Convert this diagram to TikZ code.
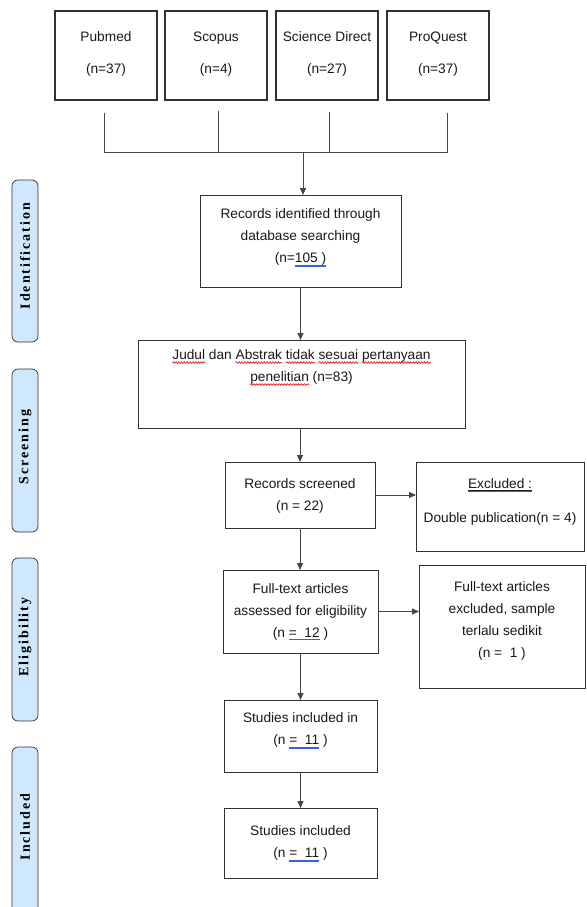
\documentclass[tikz,border=0pt]{standalone}
\usepackage{fontspec}
\setmainfont{Liberation Sans}
\newfontfamily\sidefont[LetterSpace=14]{Liberation Serif}
\usetikzlibrary{arrows.meta,decorations.pathmorphing,calc}
\definecolor{ublue}{RGB}{50,100,215}
\definecolor{sqred}{RGB}{225,30,30}
\definecolor{barfill}{RGB}{207,232,253}
\definecolor{edgec}{RGB}{50,50,50}
\definecolor{linec}{RGB}{70,70,70}
\newlength\mywd
\newcommand\sqw[1]{\settowidth\mywd{#1}\rlap{\tikz[overlay,baseline=0pt]\draw[sqred,line width=0.7pt,decorate,decoration={snake,amplitude=0.8pt,segment length=2.8pt}] (0pt,-3pt) -- (\mywd,-3pt);}#1}
\newcommand\dul[1]{\settowidth\mywd{#1}\rlap{\color{ublue}\rule[-2.3pt]{\mywd}{0.7pt}}\rlap{\color{ublue}\rule[-4pt]{\mywd}{0.7pt}}#1}
\newcommand\sul[1]{\settowidth\mywd{#1}\rlap{\color{ublue}\rule[-2.7pt]{\mywd}{0.8pt}}#1}
\newcommand\exul[1]{\settowidth\mywd{#1}\rlap{\rule[-1.6pt]{\mywd}{0.5pt}}\rlap{\color{ublue}\rule[-3.5pt]{\mywd}{0.9pt}}#1}
\begin{document}
\begin{tikzpicture}[x=1pt,y=-1pt,
  box/.style={draw=edgec,line width=0.9pt,inner sep=0pt,outer sep=0pt},
  topbox/.style={box,line width=1.2pt,minimum width=102pt,minimum height=89pt},
  txt/.style={align=center,inner sep=0pt,font=\fontsize{13.7}{22}\selectfont,text=black!90},
  toptxt/.style={txt,font=\fontsize{13.7}{32}\selectfont},
  bar/.style={draw=edgec,line width=0.7pt,fill=barfill,rounded corners=6pt,minimum width=26pt,inner sep=0pt,outer sep=0pt},
  barlbl/.style={rotate=90,inner sep=0pt,font=\sidefont\bfseries\fontsize{14}{16}\selectfont},
  conn/.style={draw=linec,line width=0.8pt},
  arr/.style={conn,-{Triangle[length=7pt,width=6pt]}}
]
\useasboundingbox (0,0) rectangle (586,907);
\fill[white] (0,0) rectangle (586,907);

% side bars
\node[bar,minimum height=162pt] (idb) at (25,261) {};
\node[bar,minimum height=163pt] (scb) at (25,450.5) {};
\node[bar,minimum height=163pt] (elb) at (25,639.5) {};
\node[bar,minimum height=180pt] (inb) at (25,837) {};
\node[barlbl] (idl) at (25,256) {Identification};
\node[barlbl] (scl) at (25,447) {Screening};
\node[barlbl] (ell) at (25,637) {Eligibility};
\node[barlbl] (inl) at (25,827) {Included};

% database boxes
\node[topbox] (pubmed) at (106,55.5) {};
\node[topbox] (scopus) at (216,55.5) {};
\node[topbox] (scidir) at (327,55.5) {};
\node[topbox] (proq) at (438,55.5) {};
\node[toptxt] (pubmedt) at (106,54) {Pubmed\\(n=37)};
\node[toptxt] (scopust) at (216,54) {Scopus\\(n=4)};
\node[toptxt] (scidirt) at (327,54) {Science Direct\\(n=27)};
\node[toptxt] (proqt) at (438,54) {ProQuest\\(n=37)};

% bracket
\coordinate (c1) at (104,113);
\coordinate (c2) at (218,111);
\coordinate (c3) at (329,112);
\coordinate (c4) at (447,113);
\coordinate (h1) at (104,152);
\coordinate (h4) at (447,152);
\coordinate (hub) at (303,152);
\draw[conn] (c1) -- (h1) -- (h4) -- (c4);
\draw[conn] (c2) -- (c2 |- h1);
\draw[conn] (c3) -- (c3 |- h1);

% main boxes
\node[box,minimum width=201pt,minimum height=92pt] (rec) at (300.5,241) {};
\node[txt] (rect) at (300.5,238) {Records identified through\\database searching\\(n=\dul{105 )}};

\node[box,minimum width=327pt,minimum height=88pt] (jud) at (301.5,384) {};
\node[txt] (judt) at (301.5,367) {\sqw{Judul} dan \sqw{Abstrak} \sqw{tidak} \sqw{sesuai} \sqw{pertanyaan}\\\sqw{penelitian} (n=83)};

\node[box,minimum width=150pt,minimum height=66pt] (scr) at (300,495) {};
\node[txt] (scrt) at (300,496) {Records screened\\(n = 22)};

\node[box,minimum width=168pt,minimum height=89pt] (exc) at (500,506.5) {};
\node[txt,font=\fontsize{13.7}{34}\selectfont] (exct) at (500,502) {\exul{Excluded :}\\Double publication(n = 4)};

\node[box,minimum width=155pt,minimum height=83pt] (ft) at (300.5,611.5) {};
\node[txt] (ftt) at (300.5,612) {Full-text articles\\assessed for eligibility\\(n \sul{=\ \ 12} )};

\node[box,minimum width=166pt,minimum height=123pt] (ftx) at (502,626.5) {};
\node[txt] (ftxt) at (502,621) {Full-text articles\\excluded, sample\\terlalu sedikit\\(n =\ \ 1 )};

\node[box,minimum width=153pt,minimum height=72pt] (sin) at (300.5,736) {};
\node[txt] (sint) at (300.5,731) {Studies included in\\(n \dul{=\ \ 11} )};

\node[box,minimum width=153pt,minimum height=70pt] (sfin) at (300.5,843) {};
\node[txt] (sfint) at (300.5,844) {Studies included\\(n \dul{=\ \ 11} )};

% arrows
\draw[arr] (hub) -- (hub |- rec.north);
\draw[arr] (rec.south) -- (rec.south |- jud.north);
\draw[arr] (jud.south -| scr.north) -- (scr.north);
\draw[arr] (scr.south) -- (scr.south |- ft.north);
\draw[arr] (ft.south) -- (ft.south |- sin.north);
\draw[arr] (sin.south) -- (sin.south |- sfin.north);
\draw[arr] (scr.east) -- (scr.east -| exc.west);
\draw[arr] (ft.east) -- (ft.east -| ftx.west);
\end{tikzpicture}
\end{document}
